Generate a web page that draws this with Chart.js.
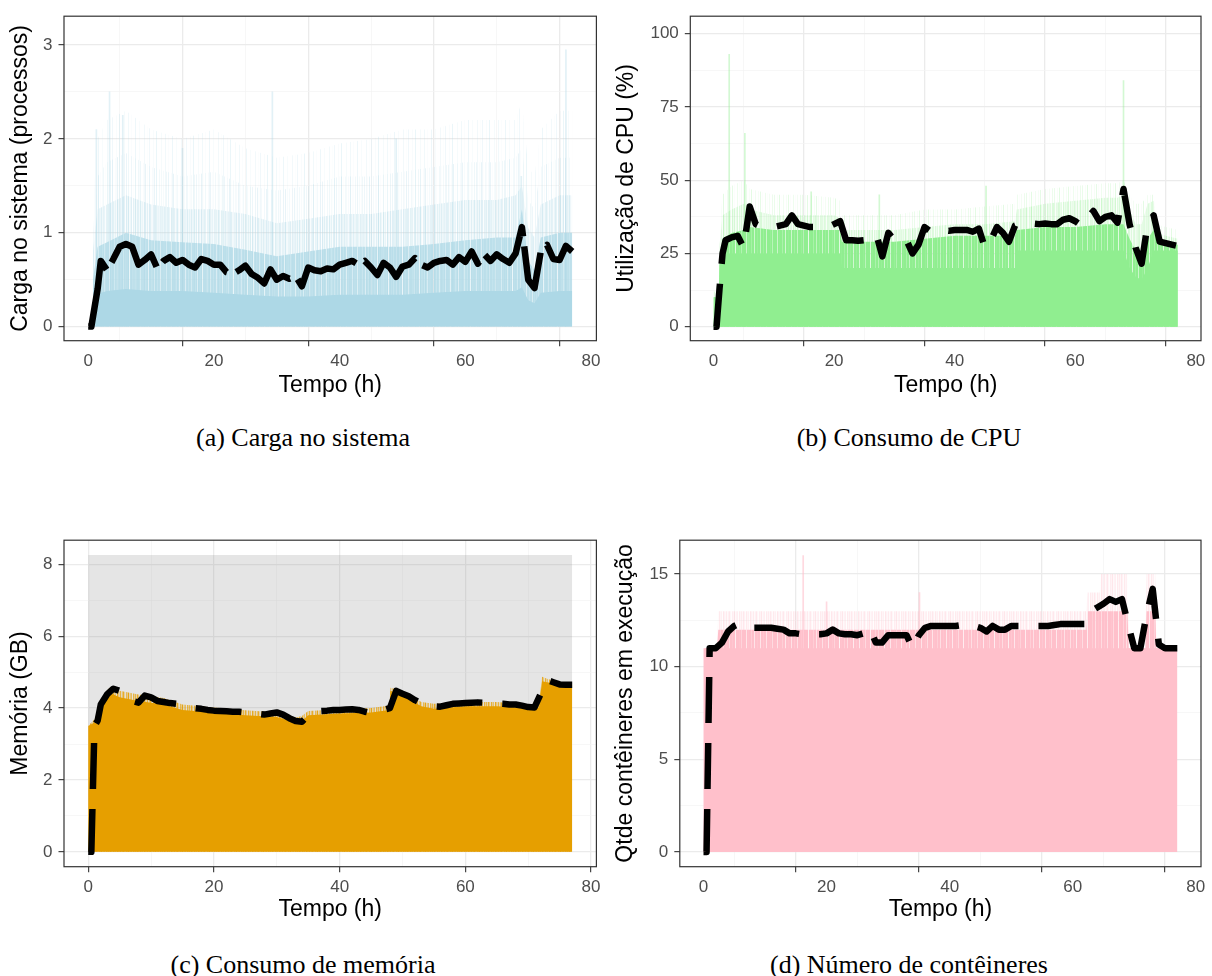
<!DOCTYPE html>
<html>
<head>
<meta charset="utf-8">
<script src="https://cdn.jsdelivr.net/npm/chart.js@4.4.1/dist/chart.umd.min.js"></script>
<style>
  body { margin: 0; background: #fff; width: 1212px; height: 976px; position: relative; overflow: hidden; }
  canvas { position: absolute; }
  .legenda { position: absolute; width: 606px; text-align: center; font-family: "Liberation Serif", "Times New Roman", serif; font-size: 26px; line-height: 30px; color: #000; }
</style>
</head>
<body>
<canvas id="carga" width="606" height="400" style="left:0;top:0"></canvas>
<canvas id="cpu" width="606" height="400" style="left:606px;top:0"></canvas>
<canvas id="memoria" width="606" height="400" style="left:0;top:524px"></canvas>
<canvas id="conteineres" width="606" height="400" style="left:606px;top:524px"></canvas>
<div class="legenda" style="left:0;top:423px">(a) Carga no sistema</div>
<div class="legenda" style="left:606px;top:423px">(b) Consumo de CPU</div>
<div class="legenda" style="left:0;top:950px">(c) Consumo de memória</div>
<div class="legenda" style="left:606px;top:950px">(d) Número de contêineres</div>
<script>
// eixo do tempo (h) usado pelas medias moveis
const horas = [0, 0.5, 1, 1.5, 2, 3, 4, 5, 6, 7, 8, 9, 10, 11, 12, 13, 14, 15, 16, 17, 18, 19, 20, 21, 22, 23, 24, 25, 26, 27, 28, 29, 30, 31, 32, 33, 34, 35, 36, 37, 38, 39, 40, 41, 42, 43, 44, 45, 46, 47, 48, 49, 50, 51, 52, 53, 54, 55, 56, 57, 58, 59, 60, 61, 62, 63, 64, 65, 66, 67, 68, 69, 70, 71, 72, 73, 74, 75, 76, 77];

// (a) carga no sistema
const cargaMedia = [0, 0, 0.2, 0.4, 0.7,
  0.6, 0.72, 0.85, 0.88, 0.85, 0.66, 0.71, 0.77, 0.62, 0.7,
  0.74, 0.68, 0.71, 0.66, 0.63, 0.72, 0.7, 0.66, 0.66, 0.58,
  0.56, 0.6, 0.65, 0.56, 0.52, 0.46, 0.61, 0.5, 0.54, 0.51,
  0.54, 0.43, 0.63, 0.6, 0.59, 0.62, 0.61, 0.66, 0.68, 0.7,
  0.66, 0.7, 0.63, 0.55, 0.68, 0.63, 0.53, 0.64, 0.66, 0.73,
  0.66, 0.63, 0.68, 0.7, 0.71, 0.66, 0.74, 0.69, 0.8, 0.67,
  0.77, 0.7, 0.77, 0.72, 0.68, 0.78, 1.06, 0.5, 0.41, 0.8,
  0.87, 0.72, 0.71, 0.86, 0.8];
const tempoCarga = [0.75, 1.5, 3, 6, 10, 15, 20, 25, 30, 35, 40, 45, 50, 55, 60, 65, 68, 69, 70, 71, 72, 75, 77];
const cargaBase = [0.25, 0.35, 0.38, 0.4, 0.38, 0.38, 0.36, 0.34, 0.32, 0.32, 0.34, 0.34, 0.34, 0.36, 0.38, 0.38, 0.38, 0.42, 0.28, 0.25, 0.36, 0.38, 0.38];
const cargaMeio = [0.5, 0.85, 0.9, 1.0, 0.92, 0.9, 0.88, 0.82, 0.75, 0.8, 0.85, 0.85, 0.85, 0.88, 0.92, 0.95, 0.95, 1.25, 0.7, 0.6, 0.95, 1.0, 1.0];
const cargaAlto = [0.8, 1.25, 1.3, 1.4, 1.3, 1.25, 1.25, 1.2, 1.1, 1.15, 1.2, 1.2, 1.25, 1.3, 1.35, 1.35, 1.4, 1.5, 1.05, 0.95, 1.3, 1.4, 1.4];
const cargaPico = [1.0, 1.6, 1.75, 1.85, 1.7, 1.6, 1.65, 1.5, 1.45, 1.5, 1.6, 1.6, 1.65, 1.7, 1.75, 1.75, 1.8, 1.9, 1.35, 1.25, 1.7, 1.8, 1.8];
const cargaTopo = [1.3, 2.0, 2.2, 2.3, 2.1, 2.0, 2.1, 1.9, 1.8, 1.85, 1.95, 2.0, 2.1, 2.1, 2.2, 2.2, 2.2, 2.4, 1.7, 1.6, 2.1, 2.3, 2.3];
const picosCargaT = [1.3, 3.4, 5.5, 15, 29.3, 49, 68.9, 76];
const picosCargaV = [2.1, 2.5, 2.25, 1.9, 2.5, 2.0, 1.6, 2.95];

// (b) consumo de CPU (%)
const cpuMedia = [0, 0, 13, 25, 29.5,
  30.5, 31, 27, 41, 35, 34, 34, 34, 34.5, 35,
  38, 35, 34.5, 34, 34, 34, 34, 35, 36, 29.5,
  29.5, 29.3, 29.5, 31, 31.5, 24, 32, 29.5, 29.5, 29.5,
  25, 28, 34, 32.5, 33, 33, 32.7, 33, 33, 33,
  32.4, 33.5, 27, 29.5, 34, 32, 29, 34.5, 35.2, 35.2,
  35.2, 35, 35.2, 35, 35, 36.5, 37, 36, 34.5, 37,
  39.5, 36, 37.5, 38, 35.5, 47, 35, 27, 21.5, 35,
  38, 29, 28.5, 28, 27.5];
const tempoCpu = [0, 0.9, 1.0, 1.5, 3, 5, 6, 10, 15, 20, 21, 21.3, 25, 30, 35, 40, 45, 50, 50.3, 55, 60, 65, 67, 68, 69, 70, 71, 72, 73, 73.5, 75, 77];
const cpuBase = [10, 10, 21, 25, 25, 25, 25, 25, 25, 25, 25, 20, 20, 20, 20, 20, 20, 20, 26, 26, 26, 26, 26, 26, 20, 17, 16, 20, 26, 26, 26, 26];
const cpuMeio = [10, 10, 22, 30, 32, 33, 34, 33, 33, 33, 33, 29, 29, 29, 30, 31, 31, 31, 33, 34, 34, 35, 35, 35, 30, 26, 22, 30, 33, 29, 29, 28];
const cpuAlto = [12, 12, 28, 38, 40, 42, 40, 38, 38, 38, 37, 33, 33, 33, 34, 35, 35, 36, 40, 42, 43, 44, 44, 45, 40, 35, 35, 42, 43, 32, 31, 30];
const cpuTopo = [14, 14, 35, 45, 48, 50, 47, 45, 45, 44, 43, 38, 38, 38, 40, 40, 41, 42, 45, 47, 48, 49, 49, 50, 45, 42, 42, 45, 45, 35, 34, 33];
const picosCpuT = [2.6, 5.2, 16.2, 27.5, 45.2, 68.0];
const picosCpuV = [93, 66, 46, 45, 48, 84];

// (c) consumo de memoria (GB)
const memMedia = [0, 0, 3.5, 3.65, 4.1,
  4.38, 4.54, 4.48, 4.4, 4.2, 4.15, 4.35, 4.3, 4.2, 4.17,
  4.14, 4.12, 4.07, 4.03, 4.0, 3.98, 3.95, 3.93, 3.92, 3.91,
  3.9, 3.9, 3.88, 3.87, 3.84, 3.82, 3.85, 3.88, 3.82, 3.72,
  3.64, 3.62, 3.8, 3.9, 3.92, 3.93, 3.95, 3.95, 3.96, 3.97,
  3.95, 3.9, 3.86, 3.9, 3.95, 4.0, 4.48, 4.4, 4.33, 4.22,
  4.13, 4.08, 4.05, 4.04, 4.08, 4.12, 4.13, 4.14, 4.15, 4.16,
  4.15, 4.14, 4.13, 4.12, 4.1, 4.1, 4.07, 4.03, 4.02, 4.4,
  4.78, 4.72, 4.66, 4.65, 4.65];
const memTotalT = [0, 77];
const memTotal = [8.26, 8.26];
const tempoMem = [0, 1, 2, 3, 3.5, 5, 8, 10, 12, 15, 20, 25, 30, 33, 34, 35, 40, 45, 47.9, 48.1, 50, 53, 55, 60, 65, 70, 71.7, 72.2, 73, 75, 77];
const memBase = [3.5, 3.6, 4.0, 4.3, 4.42, 4.3, 4.2, 4.15, 4.1, 3.95, 3.88, 3.8, 3.75, 3.6, 3.65, 3.8, 3.85, 3.88, 3.95, 4.48, 4.35, 4.05, 3.98, 4.05, 4.05, 4.0, 4.0, 4.75, 4.72, 4.66, 4.64];
const memPico = [3.5, 3.7, 4.15, 4.5, 4.58, 4.48, 4.38, 4.33, 4.28, 4.1, 4.02, 3.94, 3.88, 3.74, 3.78, 3.92, 3.97, 4.0, 4.07, 4.57, 4.47, 4.17, 4.12, 4.17, 4.17, 4.1, 4.07, 4.87, 4.82, 4.72, 4.7];

// (d) conteineres em execucao
const contMedia = [0, 0, 11, 11, 11,
  11.3, 11.9, 12.2, 12.35, 12.15, 12.1, 12.1, 12.1, 12.1, 12.05,
  12.0, 11.8, 11.8, 11.75, 11.75, 11.75, 11.75, 11.8, 12.0, 11.8,
  11.75, 11.75, 11.7, 11.8, 12.1, 11.3, 11.3, 11.7, 11.7, 11.7,
  11.7, 11.0, 11.7, 12.1, 12.2, 12.2, 12.2, 12.2, 12.2, 12.25,
  12.1, 12.2, 12.1, 11.9, 12.2, 12.0, 12.0, 12.2, 12.2, 12.2,
  12.2, 12.2, 12.2, 12.2, 12.25, 12.3, 12.3, 12.3, 12.3, 12.3,
  13.0, 13.2, 13.4, 13.65, 13.5, 13.65, 12.3, 11.0, 11.0, 12.8,
  14.2, 11.2, 11.0, 11.0, 11.0];
const tempoCont = [0, 2.2, 2.4, 62.2, 62.4, 64.4, 64.6, 68.9, 69.1, 71.8, 72.0, 73.4, 73.6, 77];
const contBase = [11, 11, 11, 11, 11, 11, 11, 11, 11, 11, 11, 11, 11, 11];
const contMeio = [11, 11, 12, 12, 13, 13, 13, 13, 11, 11, 13, 13, 11, 11];
const contAlto = [11, 11, 13, 13, 14, 14, 15, 15, 11, 11, 15, 15, 11, 11];
const picosContT = [16.2, 20.0, 35.1];
const picosContV = [16, 13.5, 14];

// marcas dos eixos
const marcasX = [0, 10, 20, 30, 40, 50, 60, 70, 80];
const rotulosX = [0, 20, 40, 60, 80];
const marcasCarga = [0, 0.5, 1, 1.5, 2, 2.5, 3];
const rotulosCarga = [0, 1, 2, 3];
const marcasCpu = [0, 12.5, 25, 37.5, 50, 62.5, 75, 87.5, 100];
const rotulosCpu = [0, 25, 50, 75, 100];
const marcasMem = [0, 1, 2, 3, 4, 5, 6, 7, 8];
const rotulosMem = [0, 2, 4, 6, 8];
const marcasCont = [0, 2.5, 5, 7.5, 10, 12.5, 15];
const rotulosCont = [0, 5, 10, 15];

// textura de listras verticais (opacidade por coluna de pixel)
const listrasDensas = [1, 1, 0.85, 1, 1, 0.25, 1, 1, 1, 0.9, 1, 0.55, 1, 1, 1, 1, 0.15, 1, 0.95, 1, 1, 0.7, 1, 1, 0.4, 1, 1, 0.9, 1, 1, 0.3];
const listrasMedias = [0.75, 0.3, 0.9, 0.5, 0.15, 0.85, 0.4, 0.6, 0.1, 0.95, 0.5, 0.3, 0.8, 0.2, 0.55, 0.9, 0.35, 0.1, 0.7, 0.45, 1, 0.25, 0.5, 0.65, 0.05, 0.8, 0.4];
const listrasRaras = [0.45, 0, 0, 0.15, 0, 0.6, 0, 0.05, 0, 0.3, 0, 0, 0.2, 0, 0.55, 0, 0.1, 0, 0, 0.35, 0, 0.08, 0, 0.25, 0, 0, 0.4, 0];
const listrasEsparsas = [0, 0.5, 0, 0, 0, 0.2, 0, 0, 0.7, 0, 0, 0, 0, 0.3, 0, 0, 0, 0.45, 0, 0, 0.15, 0, 0, 0, 0.6, 0, 0, 0, 0.25, 0, 0, 0, 0, 0.4, 0, 0, 0.1];

const fonte = '"Liberation Sans", Arial, Helvetica, sans-serif';
const pontos = (xs, ys) => xs.map((x, i) => ({ x: x, y: ys[i] }));

function listras(rgb, alfas, escala) {
    const c = document.createElement('canvas');
    c.width = alfas.length;
    c.height = 1;
    const g = c.getContext('2d');
    alfas.forEach((a, i) => {
        g.fillStyle = 'rgba(' + rgb + ',' + (a * escala) + ')';
        g.fillRect(i, 0, 1, 1);
    });
    return g.createPattern(c, 'repeat');
}

// moldura do painel (theme_bw)
const moldura = {
    id: 'moldura',
    afterDatasetsDraw(chart) {
        const { ctx, chartArea: a } = chart;
        ctx.save();
        ctx.strokeStyle = '#333333';
        ctx.lineWidth = 1.2;
        ctx.strokeRect(a.left, a.top, a.right - a.left, a.bottom - a.top);
        ctx.restore();
    }
};

function grade(rotulos) {
    const principal = c => !!(c.tick && rotulos.includes(c.tick.value));
    return {
        color: c => principal(c) ? '#ebebeb' : '#f4f4f4',
        lineWidth: c => principal(c) ? 1.3 : 0.7,
        tickColor: c => principal(c) ? '#333333' : 'rgba(0,0,0,0)',
        tickLength: 5.5,
        tickWidth: 1.1,
        drawTicks: true
    };
}

function media(dados, traco) {
    return {
        type: 'line', data: dados,
        borderColor: '#000', borderWidth: 6.5, borderDash: traco,
        borderCapStyle: 'butt', borderJoinStyle: 'round',
        pointRadius: 0, fill: false, tension: 0
    };
}

function area(dados, cor) {
    return {
        type: 'line', data: dados,
        borderColor: 'rgba(0,0,0,0)', borderWidth: 0, backgroundColor: cor,
        fill: 'origin', pointRadius: 0, tension: 0
    };
}

function picos(dados, cor) {
    return { type: 'bar', data: dados, backgroundColor: cor, barThickness: 1, grouped: false };
}

function painel(id, cfg) {
    new Chart(document.getElementById(id), {
        type: 'line',
        data: { datasets: cfg.datasets },
        options: {
            responsive: false, animation: false, events: [],
            layout: { padding: { top: cfg.topo, right: cfg.direita, left: 0, bottom: 0 } },
            plugins: { legend: { display: false }, tooltip: { enabled: false } },
            scales: {
                x: {
                    type: 'linear', min: -3.85, max: 80.85, offset: false,
                    afterBuildTicks: s => { s.ticks = marcasX.map(v => ({ value: v })); },
                    afterFit: s => { s.height = cfg.alturaX; },
                    grid: grade(rotulosX),
                    border: { display: false },
                    ticks: { color: '#4d4d4d', font: { family: fonte, size: 17 }, padding: 5, maxRotation: 0, autoSkip: false,
                             callback: v => rotulosX.includes(v) ? v : '' },
                    title: { display: true, text: 'Tempo (h)', color: '#000', font: { family: fonte, size: 23 }, padding: { top: 0, bottom: 0.2 } }
                },
                y: {
                    type: 'linear', min: cfg.yMin, max: cfg.yMax,
                    afterBuildTicks: s => { s.ticks = cfg.marcas.map(v => ({ value: v })); },
                    afterFit: s => { s.width = cfg.larguraY; },
                    grid: grade(cfg.rotulos),
                    border: { display: false },
                    ticks: { color: '#4d4d4d', font: { family: fonte, size: 17 }, padding: 6, autoSkip: false,
                             callback: v => cfg.rotulos.includes(v) ? v : '' },
                    title: { display: true, text: cfg.tituloY, color: '#000', font: { family: fonte, size: 23 }, padding: { top: cfg.recuoY, bottom: 0 } }
                }
            }
        },
        plugins: [moldura]
    });
}

const azul = '173,216,230';
const verde = '144,238,144';
const laranja = '230,159,0';
const rosa = '255,192,203';
const cor = (rgb, a) => 'rgba(' + rgb + ',' + a + ')';

painel('carga', {
    topo: 10.7, direita: 9.6, larguraY: 64, alturaX: 59.3, recuoY: 7,
    yMin: -0.15, yMax: 3.307, marcas: marcasCarga, rotulos: rotulosCarga,
    tituloY: 'Carga no sistema (processos)',
    datasets: [
        media(pontos(horas, cargaMedia), [80, 10]),
        area(pontos(tempoCarga, cargaBase), cor(azul, 1)),
        picos(pontos(picosCargaT, picosCargaV), cor(azul, 0.35)),
        area(pontos(tempoCarga, cargaMeio), listras(azul, listrasDensas, 0.75)),
        area(pontos(tempoCarga, cargaAlto), listras(azul, listrasMedias, 0.4)),
        area(pontos(tempoCarga, cargaPico), listras(azul, listrasRaras, 0.45)),
        area(pontos(tempoCarga, cargaTopo), listras(azul, listrasEsparsas, 0.35))
    ]
});

painel('cpu', {
    topo: 10.7, direita: 11, larguraY: 84.3, alturaX: 59.3, recuoY: 7,
    yMin: -4.8, yMax: 106, marcas: marcasCpu, rotulos: rotulosCpu,
    tituloY: 'Utilização de CPU (%)',
    datasets: [
        media(pontos(horas, cpuMedia), [46, 20]),
        area(pontos(tempoCpu, cpuBase), cor(verde, 1)),
        picos(pontos(picosCpuT, picosCpuV), cor(verde, 0.4)),
        area(pontos(tempoCpu, cpuMeio), listras(verde, listrasDensas, 1)),
        area(pontos(tempoCpu, cpuAlto), listras(verde, listrasMedias, 0.35)),
        area(pontos(tempoCpu, cpuTopo), listras(verde, listrasRaras, 0.4))
    ]
});

painel('memoria', {
    topo: 11, direita: 9.6, larguraY: 64, alturaX: 57.3, recuoY: 7,
    yMin: -0.413, yMax: 8.673, marcas: marcasMem, rotulos: rotulosMem,
    tituloY: 'Memória (GB)',
    datasets: [
        media(pontos(horas, memMedia), [46, 20]),
        area(pontos(tempoMem, memBase), cor(laranja, 1)),
        area(pontos(tempoMem, memPico), listras(laranja, listrasMedias, 0.9)),
        area(pontos(memTotalT, memTotal), 'rgba(127,127,127,0.2)')
    ]
});

painel('conteineres', {
    topo: 11, direita: 11, larguraY: 73.8, alturaX: 57.3, recuoY: 5.5,
    yMin: -0.8, yMax: 16.83, marcas: marcasCont, rotulos: rotulosCont,
    tituloY: 'Qtde contêineres em execução',
    datasets: [
        media(pontos(horas, contMedia), [46, 20]),
        area(pontos(tempoCont, contBase), cor(rosa, 1)),
        picos(pontos(picosContT, picosContV), cor(rosa, 0.6)),
        area(pontos(tempoCont, contMeio), listras(rosa, listrasDensas, 1)),
        area(pontos(tempoCont, contAlto), listras(rosa, listrasMedias, 0.4))
    ]
});
</script>
</body>
</html>
